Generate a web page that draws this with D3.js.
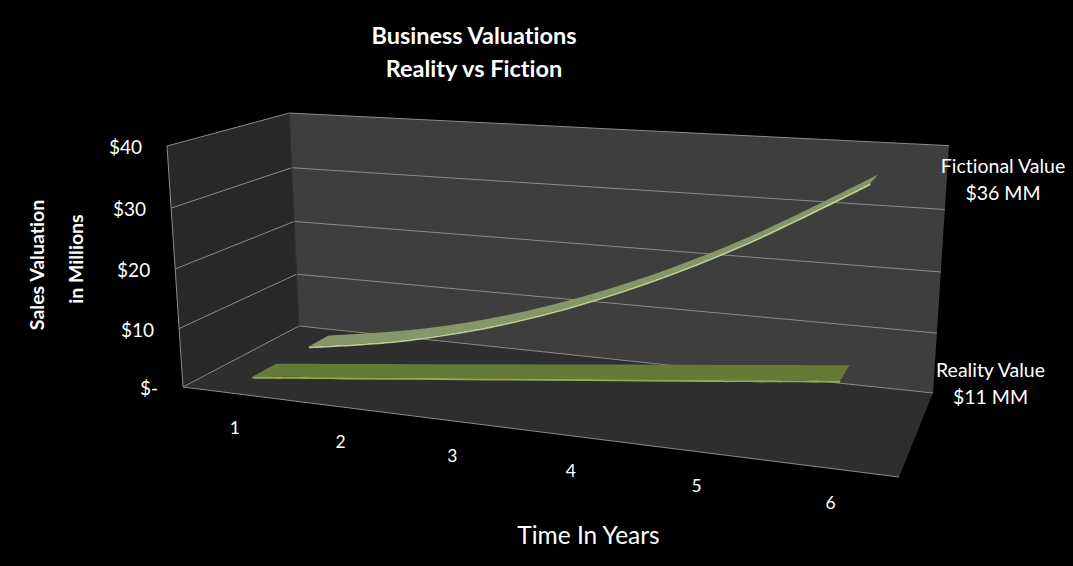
<!DOCTYPE html>
<html><head><meta charset="utf-8">
<script src="https://cdn.jsdelivr.net/npm/d3@7"></script>
<style>html,body{margin:0;padding:0;background:#000}svg{display:block}text{font-family:Lato,"Open Sans",sans-serif;fill:#fff;font-variant-ligatures:none}</style>
</head><body><svg id="c" width="1073" height="566"></svg>
<script>
const years = [1,2,3,4,5,6];
const fictionalValues = [0.8,4,9,16,25,36];
const realityValues = [1,3,5,7,9,11];
const valueTicks = [0,10,20,30,40];
const valueLabels = ["$-","$10","$20","$30","$40"];
const titleLines = ["Business Valuations","Reality vs Fiction"];
const yTitleLines = ["Sales Valuation","in Millions"];
const seriesLabels = [["Fictional Value","$36 MM"],["Reality Value","$11 MM"]];

const K = {A:[183,387],D:[899,477],C:[933,393],B:[299,326],E:[167,146],F:[289,113],G:[949,150]};
function camera(){
  const [x0,y0]=K.A,[x1,y1]=K.D,[x2,y2]=K.C,[x3,y3]=K.B;
  const sx=x0-x1+x2-x3, sy=y0-y1+y2-y3, dx1=x1-x2, dx2=x3-x2, dy1=y1-y2, dy2=y3-y2;
  const det=dx1*dy2-dx2*dy1;
  const g=(sx*dy2-dx2*sy)/det, h=(dx1*sy-sx*dy1)/det;
  const a=x1-x0+g*x1, b=x3-x0+h*x3, c=x0, d=y1-y0+g*y1, e=y3-y0+h*y3, f=y0;
  const eq=[];
  const add=(X,Z,U,V)=>{
    eq.push([U-K.E[0], a*X+b*Z+K.E[0]-U*(g*X+h*Z+1)]);
    eq.push([V-K.E[1], d*X+e*Z+K.E[1]-V*(g*X+h*Z+1)]);
  };
  add(0,1,K.F[0],K.F[1]); add(1,1,K.G[0],K.G[1]);
  const r=d3.sum(eq,q=>q[0]*q[1])/d3.sum(eq,q=>q[0]*q[0]);
  const p=K.E[0]*(1+r)-c, q=K.E[1]*(1+r)-f;
  return (X,Y,Z)=>{const w=g*X+h*Z+1+r*Y;return [(a*X+b*Z+c+p*Y)/w,(d*X+e*Z+f+q*Y)/w];};
}
const P = camera();
const xS = d3.scalePoint(years,[0.083,0.917]);
const yS = d3.scaleLinear([0,40],[0,1]);
const svg = d3.select("#c");
svg.append("rect").attr("width",1073).attr("height",566).attr("fill","#000");
const path = d3.line();
const poly = (pts,fill)=>svg.append("path").attr("d",path(pts)+"Z").attr("fill",fill);
const seg = (a,b,col,w)=>svg.append("path").attr("d",path([a,b])).attr("stroke",col).attr("stroke-width",w||1).attr("fill","none");

poly([P(0,0,0),P(0,1,0),P(0,1,1),P(0,0,1)],"#282828");
poly([P(0,0,1),P(0,1,1),P(1,1,1),P(1,0,1)],"#3e3e3e");
poly([P(0,0,0),P(0,0,1),P(1,0,1),P(1,0,0)],"#2e2e2e");
const lineCol="#8c8c8c";
valueTicks.forEach(v=>{
  const t=yS(v);
  seg(P(0,t,0),P(0,t,1),lineCol);
  seg(P(0,t,1),P(1,t,1),lineCol);
});
seg(P(0,0,0),P(0,1,0),lineCol);
seg(P(0,0,0),P(1,0,0),lineCol);
seg(P(0,0,1),P(0,1,1),"#333");

function ribbon(vals,z0,z1,top,edge){
  const h=0.008;
  const curve=d3.curveCatmullRom.alpha(0.5);
  const surface=(pa,pb)=>d3.area().curve(curve)
    .x0((v,i)=>pa(v,i)[0]).y0((v,i)=>pa(v,i)[1])
    .x1((v,i)=>pb(v,i)[0]).y1((v,i)=>pb(v,i)[1]);
  const pt=(v,i,dy,z)=>P(xS(years[i]),yS(v)+dy,z);
  svg.append("path").attr("fill",top).attr("d",surface((v,i)=>pt(v,i,0,z0),(v,i)=>pt(v,i,0,z1))(vals));
  svg.append("path").attr("fill",edge).attr("d",surface((v,i)=>pt(v,i,0,z0),(v,i)=>pt(v,i,-h,z0))(vals));
}
ribbon(fictionalValues,0.65,0.84,"#869668","#bccf90");
ribbon(realityValues,0.155,0.355,"#667a38","#8fae48");

valueTicks.forEach((v,i)=>{
  const p=P(0,yS(v),0);
  svg.append("text").attr("x",p[0]-25).attr("y",p[1]+8).attr("text-anchor","end").attr("font-size",19).text(valueLabels[i]);
});
years.forEach(y=>{
  const p=P(xS(y),0,0);
  svg.append("text").attr("x",p[0]+1.5).attr("y",p[1]+41).attr("text-anchor","middle").attr("font-size",17.5).text(y);
});
titleLines.forEach((t,i)=>svg.append("text").attr("x",474).attr("y",44+i*32.5).attr("text-anchor","middle").attr("font-size",23.5).attr("font-weight",700).text(t));
yTitleLines.forEach((t,i)=>svg.append("text").attr("transform",`translate(${44+i*39},${i?259:265}) rotate(-90)`).attr("text-anchor","middle").attr("font-size",19.5).attr("font-weight",700).text(t));
svg.append("text").attr("x",588.5).attr("y",544).attr("text-anchor","middle").attr("font-size",24.5).text("Time In Years");
seriesLabels.forEach((l,i)=>l.forEach((t,j)=>svg.append("text").attr("x",i?990.5:1003).attr("y",(i?377:173)+j*27).attr("text-anchor","middle").attr("font-size",19.5).text(t)));
</script></body></html>
